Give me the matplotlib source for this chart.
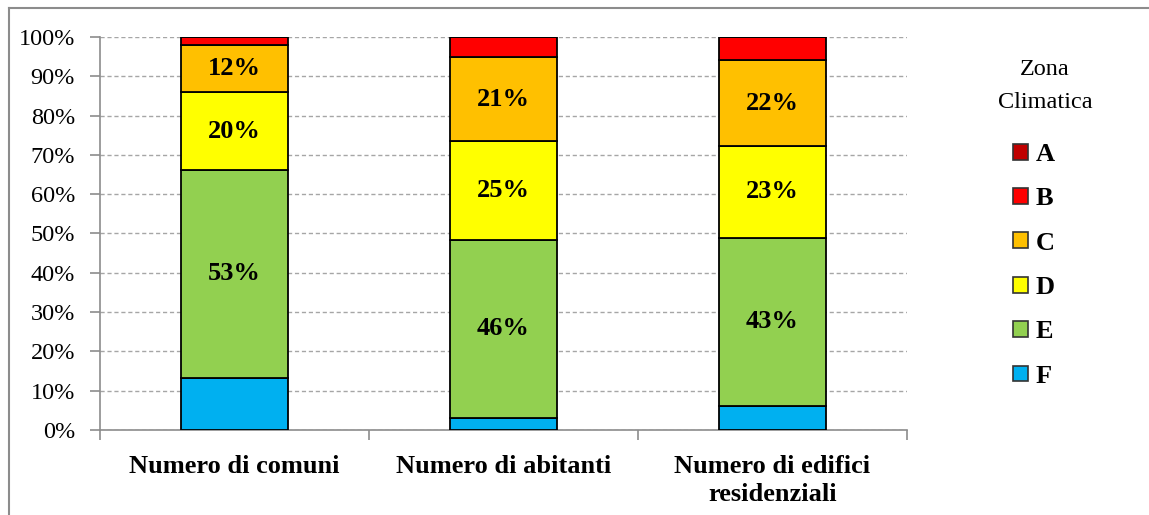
import matplotlib
matplotlib.use("Agg")
import matplotlib.pyplot as plt
from matplotlib.patches import Patch
from matplotlib.lines import Line2D
import numpy as np

categories = ["Numero di comuni", "Numero di abitanti", "Numero di edifici\nresidenziali"]
zones = ["F", "E", "D", "C", "B", "A"]
F = [13.3, 3.0, 6.1]
E = [52.8, 45.4, 42.8]
D = [19.8, 25.2, 23.4]
C = [12.0, 21.2, 21.8]
B = [2.0, 5.2, 5.9]
A = [0.1, 0.0, 0.0]
labels_E = ["53%", "46%", "43%"]
labels_D = ["20%", "25%", "23%"]
labels_C = ["12%", "21%", "22%"]
yticks = [0, 10, 20, 30, 40, 50, 60, 70, 80, 90, 100]

colors = {"A": "#C00000", "B": "#FF0000", "C": "#FFC000",
          "D": "#FFFF00", "E": "#92D050", "F": "#00B0F0"}
series = {"F": F, "E": E, "D": D, "C": C, "B": B, "A": A}
seg_labels = {"E": labels_E, "D": labels_D, "C": labels_C}

serif = ["Liberation Serif", "DejaVu Serif"]
plt.rcParams["font.family"] = serif

fig = plt.figure(figsize=(11.49, 5.15), dpi=100)
ax = fig.add_axes([100/1149, 1-430/515, 807/1149, 393/515])

x = np.arange(len(categories))
bottom = np.zeros(len(categories))
for z in zones:
    vals = np.array(series[z])
    ax.bar(x, vals, bottom=bottom, width=0.40, color=colors[z],
           edgecolor="black", linewidth=1.3, zorder=3)
    if z in seg_labels:
        for i, lab in enumerate(seg_labels[z]):
            ax.text(x[i], bottom[i] + vals[i]/2, lab, ha="center", va="center",
                    fontsize=19, fontweight="bold", zorder=4)
    bottom += vals

ax.set_xlim(-0.5, 2.5)
ax.set_ylim(0, 100)
ax.set_yticks(yticks)
ax.set_yticklabels([f"{v}%" for v in yticks], fontsize=17.5)
ax.yaxis.grid(True, linestyle=(0, (3, 2)), color="#a6a6a6", linewidth=1.0, zorder=0)
ax.set_xticks([-0.5, 0.5, 1.5, 2.5])
ax.set_xticklabels([])
ax.set_xticks(x, minor=True)
ax.set_xticklabels(categories, minor=True, fontsize=19, fontweight="bold",
                   linespacing=1.3)
ax.tick_params(axis="x", which="minor", length=0, pad=18)
ax.tick_params(axis="x", which="major", length=7, color="#8c8c8c", width=1.2)
ax.tick_params(axis="y", length=7, color="#8c8c8c", width=1.2, pad=11)
for s in ["top", "right"]:
    ax.spines[s].set_visible(False)
for s in ["left", "bottom"]:
    ax.spines[s].set_color("#8c8c8c")
    ax.spines[s].set_linewidth(1.2)

fig.text(1045/1149, 1-86/515, "Zona\nClimatica", ha="center", va="center",
         fontsize=17.5, linespacing=1.75, multialignment="center")

handles = [Patch(facecolor=colors[z], edgecolor="#333333", linewidth=1.2, label=z)
           for z in ["A", "B", "C", "D", "E", "F"]]
leg = fig.legend(handles=handles, loc="upper left",
                 bbox_to_anchor=(1013/1149, 1-143/515), frameon=False,
                 prop={"family": serif, "weight": "bold", "size": 19},
                 handlelength=0.55, handleheight=0.55, handletextpad=0.3,
                 labelspacing=0.81, borderaxespad=0, borderpad=0)

fig.add_artist(Line2D([9/1149, 9/1149], [0, 1-8/515], transform=fig.transFigure,
                      color="#8c8c8c", linewidth=1.5))
fig.add_artist(Line2D([9/1149, 1], [1-8/515, 1-8/515], transform=fig.transFigure,
                      color="#8c8c8c", linewidth=1.5))

fig.savefig("out.png", dpi=100)
